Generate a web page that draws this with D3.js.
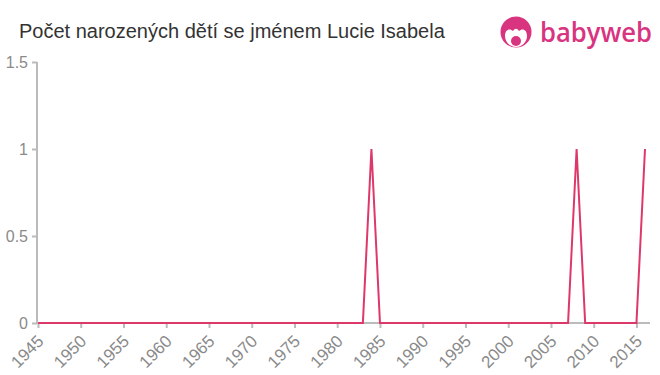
<!DOCTYPE html>
<html>
<head>
<meta charset="utf-8">
<script src="https://cdn.jsdelivr.net/npm/d3@7"></script>
<style>
  body { margin: 0; background: #fff; }
  text { font-family: "Liberation Sans", Arial, sans-serif; }
</style>
</head>
<body>
<div id="chart"></div>
<script>
const title = "Počet narozených dětí se jménem Lucie Isabela";
const firstYear = 1945;
const lastYear = 2016;
// births per year, 1945..2016
const counts = [
  0, 0, 0, 0, 0, 0, 0, 0, 0, 0,   // 1945-1954
  0, 0, 0, 0, 0, 0, 0, 0, 0, 0,   // 1955-1964
  0, 0, 0, 0, 0, 0, 0, 0, 0, 0,   // 1965-1974
  0, 0, 0, 0, 0, 0, 0, 0, 0, 1,   // 1975-1984
  0, 0, 0, 0, 0, 0, 0, 0, 0, 0,   // 1985-1994
  0, 0, 0, 0, 0, 0, 0, 0, 0, 0,   // 1995-2004
  0, 0, 0, 1, 0, 0, 0, 0, 0, 0,   // 2005-2014
  0, 1                            // 2015-2016
];
const xTicks = [1945, 1950, 1955, 1960, 1965, 1970, 1975, 1980, 1985, 1990, 1995, 2000, 2005, 2010, 2015];
const yTicks = [0, 0.5, 1, 1.5];

const W = 660, H = 375;
const data = counts.map((v, i) => ({ year: firstYear + i, value: v }));

const svg = d3.select("#chart").append("svg")
  .attr("width", W)
  .attr("height", H);

const x = d3.scaleLinear().domain([firstYear, lastYear]).range([38, 645]);
const y = d3.scaleLinear().domain([0, 1.5]).range([323, 62]);

// title
svg.append("text")
  .attr("x", 19)
  .attr("y", 38)
  .style("font-size", "20px")
  .style("fill", "#333")
  .text(title);

// logo
const logo = svg.append("g").attr("transform", "translate(516,32)");
logo.append("circle").attr("r", 15.5).style("fill", "#d8347f");
logo.append("path")
  .attr("d", "M-11,4 C-11,-3 -6,-4 -3,-1 C-1,-4 1,-4 3,-1 C6,-4 11,-3 11,4 C11,10 6,15 0,15 C-6,15 -11,10 -11,4 Z")
  .style("fill", "#fff");
logo.append("circle").attr("cx", 0).attr("cy", 9).attr("r", 5).style("fill", "#d8347f");
svg.append("text")
  .attr("x", 540)
  .attr("y", 42)
  .attr("textLength", 112)
  .attr("lengthAdjust", "spacingAndGlyphs")
  .style("font-size", "27px")
  .style("font-weight", "600")
  .style("font-family", "'Open Sans', sans-serif")
  .style("fill", "#d8347f")
  .text("babyweb");

// y axis
const yAxis = d3.axisLeft(y)
  .tickValues(yTicks)
  .tickFormat(d => String(d))
  .tickSize(5)
  .tickPadding(4);
const yg = svg.append("g")
  .attr("transform", "translate(37,0)")
  .call(yAxis);
yg.select(".domain").remove();
yg.append("line")
  .attr("x1", 0).attr("x2", 0)
  .attr("y1", y(1.5)).attr("y2", y(0));

// x axis
const xAxis = d3.axisBottom(x)
  .tickValues(xTicks)
  .tickFormat(d3.format("d"))
  .tickSize(5)
  .tickPadding(3);
const xg = svg.append("g")
  .attr("transform", "translate(0," + y(0) + ")")
  .call(xAxis);
xg.select(".domain").remove();
xg.append("line")
  .attr("x1", 37).attr("x2", 650)
  .attr("y1", 0).attr("y2", 0);
xg.selectAll(".tick text")
  .attr("x", 0)
  .attr("y", 0)
  .attr("text-anchor", "end")
  .attr("dy", "0.35em")
  .attr("transform", "translate(2,15) rotate(-45)");

svg.selectAll(".tick line, g > line")
  .style("stroke", "#bbb")
  .style("stroke-width", 2);
svg.selectAll(".tick text")
  .style("font-size", "16px")
  .style("fill", "#8a8a8a")
  .style("font-family", "'Liberation Sans', Arial, sans-serif");
xg.selectAll(".tick text").style("font-size", "17px");

// series
const line = d3.line()
  .x(d => x(d.year))
  .y(d => y(d.value));

svg.append("path")
  .datum(data)
  .attr("d", line)
  .style("fill", "none")
  .style("stroke", "#de386a")
  .style("stroke-width", 2)
  .style("stroke-linejoin", "miter");
</script>
</body>
</html>
